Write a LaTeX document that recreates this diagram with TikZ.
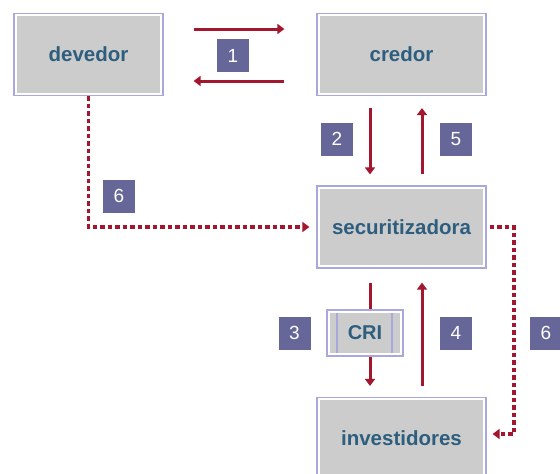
\documentclass[tikz,border=0pt]{standalone}
\usepackage{fontspec}
\setmainfont{Liberation Sans}
\usetikzlibrary{arrows.meta}
\definecolor{flow}{HTML}{A2172E}
\definecolor{badge}{HTML}{666699}
\definecolor{frame}{HTML}{A8A8DC}
\definecolor{panel}{HTML}{CCCCCC}
\definecolor{label}{HTML}{2E5E7E}
\tikzset{
  party/.style={draw=frame, line width=1.2pt, fill=white, inner sep=0pt,
    minimum width=#1, minimum height=82pt,
    font=\fontsize{20.5}{24}\selectfont\bfseries, text=label,
    path picture={\fill[panel]
      ([shift={(2.6pt,2.6pt)}]path picture bounding box.south west) rectangle
      ([shift={(-2.6pt,-2.6pt)}]path picture bounding box.north east);}},
  paper/.style={draw=frame, line width=1.2pt, fill=white, inner sep=0pt,
    minimum width=76pt, minimum height=46pt,
    font=\fontsize{20}{24}\selectfont\bfseries, text=label,
    path picture={
      \fill[panel]
        ([shift={(2.6pt,2.6pt)}]path picture bounding box.south west) rectangle
        ([shift={(-2.6pt,-2.6pt)}]path picture bounding box.north east);
      \draw[frame, line width=1.2pt]
        ([shift={(10pt,2.6pt)}]path picture bounding box.south west) --
        ([shift={(10pt,-2.6pt)}]path picture bounding box.north west);
      \draw[frame, line width=1.2pt]
        ([shift={(-11pt,2.6pt)}]path picture bounding box.south east) --
        ([shift={(-11pt,-2.6pt)}]path picture bounding box.north east);}},
  badgebox/.style={fill=badge, text=white, inner sep=0pt,
    minimum width=32pt, minimum height=33pt,
    font=\fontsize{19}{22}\selectfont},
  flowline/.style={draw=flow, line width=3pt,
    -{Triangle[length=7pt,width=10pt]}},
  dotline/.style={draw=flow, line width=3.3pt, dash pattern=on 4.5pt off 3pt,
    -{Triangle[length=7pt,width=10pt]}},
}
\begin{document}
\begin{tikzpicture}[x=1pt,y=-1pt]
  \useasboundingbox (0,0) rectangle (560,474);
  \clip (0,0) rectangle (560,474);
  \fill[white] (0,0) rectangle (560,474);

  % parties
  \node[party=149pt] (devedor) at (88.5,54.5) {devedor};
  \node[party=169pt] (credor) at (401.5,54.5) {credor};
  \node[party=169pt] (secur) at (401.5,227) {securitizadora};
  \node[party=169pt] (invest) at (401.5,438.5) {investidores};

  % step 1: devedor <-> credor
  \draw[flowline, shorten <=30pt, shorten >=32pt]
    ([yshift=25.5pt]devedor.east) -- ([yshift=25.5pt]credor.west);
  \draw[flowline, shorten <=32pt, shorten >=30pt]
    ([yshift=-26.5pt]credor.west) -- ([yshift=-26.5pt]devedor.east);

  % steps 2 and 5: credor <-> securitizadora
  \draw[flowline, shorten <=12pt, shorten >=11pt]
    ([xshift=-31.5pt]credor.south) -- ([xshift=-31.5pt]secur.north);
  \draw[flowline, shorten <=11pt, shorten >=12pt]
    ([xshift=20.5pt]secur.north) -- ([xshift=20.5pt]credor.south);

  % steps 3 and 4: securitizadora <-> investidores
  \draw[flowline, shorten <=14pt, shorten >=11pt]
    ([xshift=-31.5pt]secur.south) -- ([xshift=-31.5pt]invest.north);
  \draw[flowline, shorten <=11pt, shorten >=14pt]
    ([xshift=20.5pt]invest.north) -- ([xshift=20.5pt]secur.south);
  \node[paper] (cri) at (365,333) {CRI};

  % step 6: payment flows
  \draw[dotline, shorten >=7pt] (devedor.south) |- (secur.west);
  \coordinate (bend) at (514,333);
  \coordinate (investin) at ([yshift=4.5pt]invest.east);
  \draw[dotline, shorten <=3pt, shorten >=6pt]
    (secur.east) -- (secur.east -| bend) -- (investin -| bend) -- (investin);

  % step badges
  \node[badgebox] (b1) at (233,55.5) {1};
  \node[badgebox] (b2) at (337,139) {2};
  \node[badgebox] (b5) at (456,139) {5};
  \node[badgebox] (b6a) at (119,196) {6};
  \node[badgebox] (b3) at (294.5,333) {3};
  \node[badgebox] (b4) at (456,333) {4};
  \node[badgebox] (b6b) at (546,333) {6};
\end{tikzpicture}
\end{document}
